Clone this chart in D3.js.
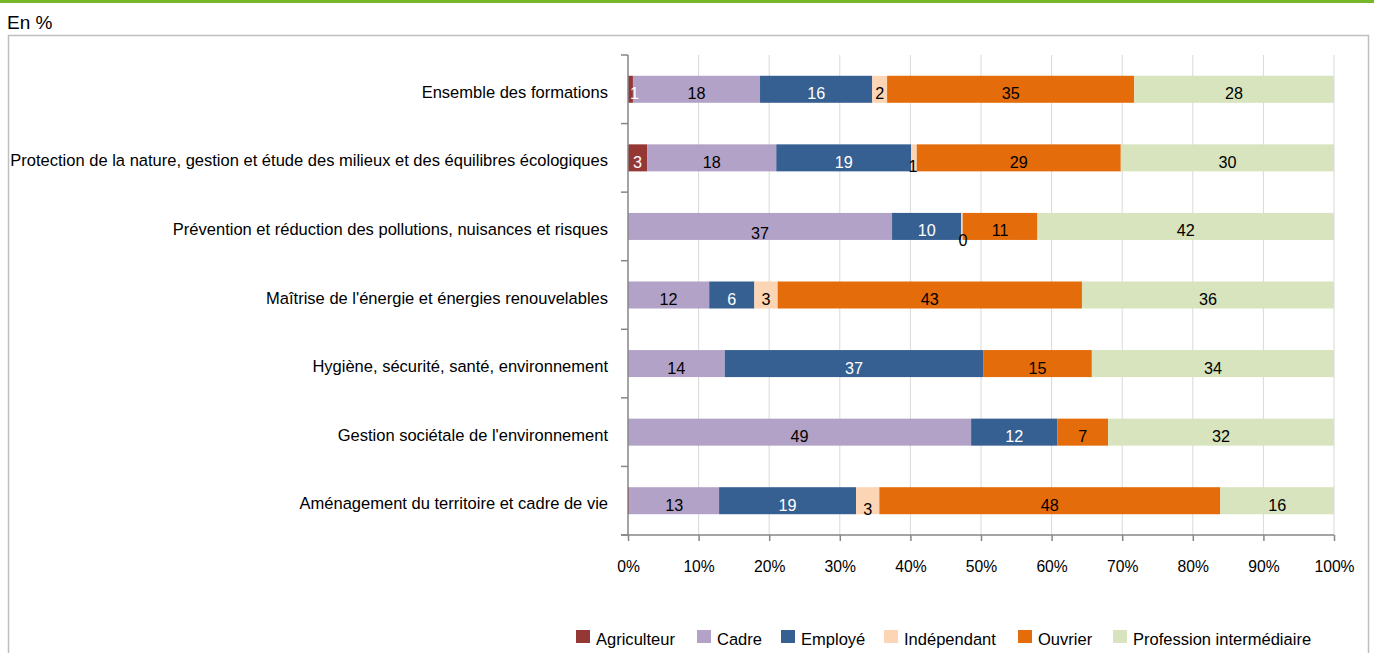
<!DOCTYPE html>
<html><head><meta charset="utf-8">
<script src="https://cdn.jsdelivr.net/npm/d3@7/dist/d3.min.js"></script>
<style>
html,body{margin:0;padding:0;background:#fff;}
svg{display:block;}
</style></head>
<body><svg id="chart" width="1374" height="653"></svg>
<script>
const categories = [
  "Ensemble des formations",
  "Protection de la nature, gestion et étude des milieux et des équilibres écologiques",
  "Prévention et réduction des pollutions, nuisances et risques",
  "Maîtrise de l'énergie et énergies renouvelables",
  "Hygiène, sécurité, santé, environnement",
  "Gestion sociétale de l'environnement",
  "Aménagement du territoire et cadre de vie"
];
const seriesNames = ["Agriculteur","Cadre","Employé","Indépendant","Ouvrier","Profession intermédiaire"];
const agriculteur = [0.7, 2.7, 0, 0, 0, 0, 0.2];
const cadre       = [18.0, 18.3, 37.4, 11.5, 13.7, 48.6, 12.7];
const employe     = [15.9, 19.1, 9.8, 6.4, 36.6, 12.2, 19.4];
const independant = [2.1, 0.8, 0.2, 3.3, 0, 0, 3.3];
const ouvrier     = [35.0, 28.9, 10.6, 43.1, 15.4, 7.2, 48.3];
const profession  = [28.3, 30.2, 42.0, 35.7, 34.3, 32.0, 16.1];
// labels printed on the bars
const labelsAgriculteur = ["1","3","","","","",""];
const labelsCadre       = ["18","18","37","12","14","49","13"];
const labelsEmploye     = ["16","19","10","6","37","12","19"];
const labelsIndependant = ["2","1","0","3","","","3"];
const labelsOuvrier     = ["35","29","11","43","15","7","48"];
const labelsProfession  = ["28","30","42","36","34","32","16"];
const xTicks = [0,10,20,30,40,50,60,70,80,90,100];

const colors = ["#953735","#b3a2c7","#376092","#fcd5b5","#e46c0a","#d7e4bd"];
const labelColors = ["#fff","#000","#fff","#000","#000","#000"];
const seriesValues = [agriculteur,cadre,employe,independant,ouvrier,profession];
const seriesLabels = [labelsAgriculteur,labelsCadre,labelsEmploye,labelsIndependant,labelsOuvrier,labelsProfession];

const svg = d3.select("#chart");
const W = 1374, H = 653;

// font detection: prefer a narrow face if installed
function measure(fam, size, txt){
  const t = svg.append("text").attr("font-family",fam).attr("font-size",size).text(txt);
  const w = t.node().getComputedTextLength(); t.remove(); return w;
}
const probe = categories[1];
let FONT = "'Liberation Sans', Arial, sans-serif";
const wNarrow = measure("'Liberation Sans Narrow', monospace", 20, probe);
const wMono = measure("monospace", 20, probe);
if (Math.abs(wNarrow - wMono) > 1) FONT = "'Liberation Sans Narrow', 'Liberation Sans', sans-serif";
// size so that the longest category label spans like the reference (~598px)
const baseW = measure(FONT, 20, probe);
const FS = 20 * 598 / baseW;
svg.style("font-family", FONT);

// top green rule
svg.append("rect").attr("x",0).attr("y",0).attr("width",W).attr("height",3).attr("fill","#77b82a");
svg.append("text").attr("x",7).attr("y",29).attr("font-size",FS*1.15).attr("fill","#000").text("En %");
// frame
svg.append("path").attr("d",`M8.5,${H+2} V35.5 H1368.5 V${H+2}`).attr("fill","none").attr("stroke","#bfbfbf").attr("stroke-width",1.5);

const x = d3.scaleLinear().domain([0,100]).range([628,1334]);
const y = d3.scaleBand().domain(categories).range([55,535]).paddingInner(0.606).paddingOuter(0.303);

const table = categories.map((c,i)=>{const o={cat:c}; seriesNames.forEach((s,j)=>o[s]=seriesValues[j][i]); return o;});
const stack = d3.stack().keys(seriesNames)(table);

// gridlines
svg.append("g").selectAll("line").data(xTicks.slice(1)).join("line")
  .attr("x1",d=>x(d)).attr("x2",d=>x(d)).attr("y1",55).attr("y2",535)
  .attr("stroke","#d9d9d9").attr("stroke-width",1);

// bars
const g = svg.append("g");
stack.forEach((layer,j)=>{
  g.append("g").attr("fill",colors[j]).selectAll("rect").data(layer).join("rect")
    .attr("x",d=>x(d[0])).attr("y",d=>y(d.data.cat))
    .attr("width",d=>Math.max(0,x(d[1])-x(d[0]))).attr("height",y.bandwidth());
});

// labels
const offsets = { // nudges for labels of small segments [dx,dy]
  "0-0":[4,0], "3-1":[-1,4], "3-2":[1,10], "3-6":[0,4], "1-2":[0,3]
};
const lg = svg.append("g").attr("font-size",FS*0.98).attr("text-anchor","middle");
stack.forEach((layer,j)=>{
  layer.forEach((d,i)=>{
    const t = seriesLabels[j][i];
    if(!t) return;
    const off = offsets[j+"-"+i]||[0,0];
    lg.append("text")
      .attr("x",(x(d[0])+x(d[1]))/2+off[0])
      .attr("y",y(d.data.cat)+y.bandwidth()/2+10+off[1])
      .attr("fill",labelColors[j]).text(t);
  });
});

// y axis
const yAxisG = svg.append("g");
yAxisG.append("line").attr("x1",628).attr("x2",628).attr("y1",55).attr("y2",535).attr("stroke","#868686").attr("stroke-width",1.5);
const bounds = d3.range(categories.length+1).map(i=>55+i*480/categories.length);
yAxisG.selectAll("line.t").data(bounds).join("line").attr("class","t")
  .attr("x1",621).attr("x2",628).attr("y1",d=>d).attr("y2",d=>d).attr("stroke","#868686").attr("stroke-width",1.5);
yAxisG.selectAll("text").data(categories).join("text")
  .attr("x",608).attr("y",d=>y(d)+y.bandwidth()/2+8.5).attr("text-anchor","end")
  .attr("font-size",FS).attr("fill","#000").text(d=>d);

// x axis
const xAxis = d3.axisBottom(x).tickValues(xTicks).tickFormat(d=>d+"%").tickSize(6).tickPadding(20);
const xg = svg.append("g").attr("transform","translate(0,535)").call(xAxis);
xg.select(".domain").attr("stroke","#868686").attr("stroke-width",1.5).attr("d","M621,0H1334");
xg.selectAll(".tick line").attr("stroke","#868686").attr("stroke-width",1.5);
xg.selectAll(".tick text").attr("font-size",FS*0.95).attr("fill","#000").attr("font-family",FONT);

// legend
const legendX = [576,697,781,884,1018,1113];
const lgd = svg.append("g");
seriesNames.forEach((s,j)=>{
  lgd.append("rect").attr("x",legendX[j]).attr("y",630).attr("width",14).attr("height",13).attr("fill",colors[j]);
  lgd.append("text").attr("x",legendX[j]+20).attr("y",645).attr("font-size",FS).attr("fill","#000").text(s);
});
</script></body></html>
